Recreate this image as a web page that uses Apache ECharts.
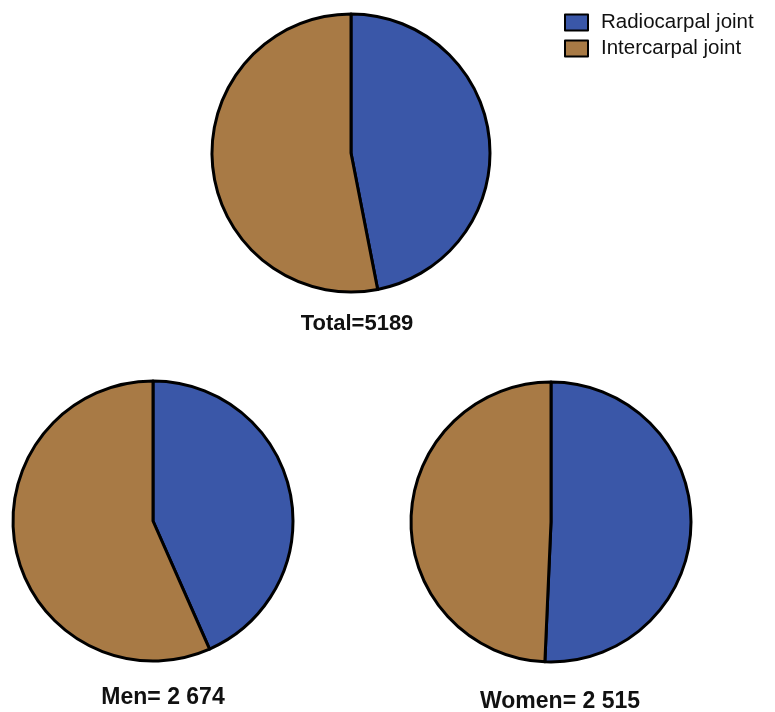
<!DOCTYPE html>
<html>
<head>
<meta charset="utf-8">
<script src="https://cdn.jsdelivr.net/npm/echarts@6/dist/echarts.min.js"></script>
<style>html,body{margin:0;padding:0;background:#fff;}#c{width:775px;height:712px;}</style>
</head>
<body>
<div id="c"></div>
<script>
const categories = ['Radiocarpal joint', 'Intercarpal joint'];
const totalValues = [2435, 2754];
const menValues = [1160, 1514];
const womenValues = [1275, 1240];
const pieTitles = ['Total=5189', 'Men= 2 674', 'Women= 2 515'];
const colors = ['#3a57a8', '#a87a45'];

const chart = echarts.init(document.getElementById('c'));
function mk(vals) { return categories.map((n, i) => ({ name: n, value: vals[i] })); }
const common = {
  type: 'pie',
  startAngle: 90,
  label: { show: false },
  labelLine: { show: false },
  silent: true,
  animation: false,
  itemStyle: { borderColor: '#000', borderWidth: 3 },
  emphasis: { disabled: true }
};
chart.setOption({
  color: colors,
  animation: false,
  title: [
    { text: pieTitles[0], left: 352, top: 308, textAlign: 'center',
      textStyle: { fontFamily: 'Liberation Sans, Arial', fontWeight: 'bold', fontSize: 22, color: '#111' } },
    { text: pieTitles[1], left: 158, top: 681, textAlign: 'center',
      textStyle: { fontFamily: 'Liberation Sans Narrow, Arial Narrow, Liberation Sans', fontWeight: 'bold', fontSize: 23, color: '#111' } },
    { text: pieTitles[2], left: 555, top: 685, textAlign: 'center',
      textStyle: { fontFamily: 'Liberation Sans Narrow, Arial Narrow, Liberation Sans', fontWeight: 'bold', fontSize: 23, color: '#111' } }
  ],
  legend: {
    orient: 'vertical',
    left: 559,
    top: 7,
    itemWidth: 23,
    itemHeight: 16,
    itemGap: 5,
    icon: 'rect',
    data: categories,
    itemStyle: { borderColor: '#000', borderWidth: 2 },
    textStyle: { fontFamily: 'Liberation Sans, Arial', fontSize: 20.5, color: '#111', padding: [0, 0, 0, 8] }
  },
  series: [
    Object.assign({}, common, { center: [351, 153], radius: 139, data: mk(totalValues) }),
    Object.assign({}, common, { center: [153, 521], radius: 140, data: mk(menValues) }),
    Object.assign({}, common, { center: [551, 522], radius: 140, data: mk(womenValues) })
  ]
});
</script>
</body>
</html>
